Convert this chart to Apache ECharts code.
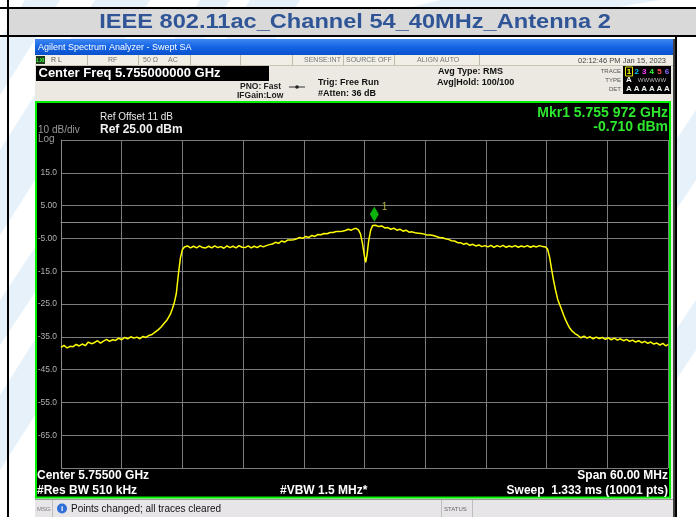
<!DOCTYPE html>
<html>
<head>
<meta charset="utf-8">
<script src="https://cdn.jsdelivr.net/npm/echarts@6/dist/echarts.min.js"></script>
<style>
html,body{margin:0;padding:0;background:#fff;}
#chart{width:696px;height:517px;}
</style>
</head>
<body>
<div id="chart"></div>
<script>
// ---- Data ----
const freqMHz = [
5725.0,5725.3,5725.6,5725.9,5726.2,5726.5,5726.8,5727.1,5727.4,5727.7,5728.0,5728.3,5728.6,5728.9,5729.2,5729.5,5729.8,5730.1,5730.4,5730.7,
5731.0,5731.3,5731.6,5731.9,5732.2,5732.5,5732.8,5733.1,5733.4,5733.7,5734.0,5734.3,5734.6,5734.9,5735.2,5735.5,5735.8,5736.0,5736.2,5736.4,
5736.6,5736.8,5737.0,5737.2,5737.5,5737.8,5738.1,5738.4,5738.7,5739.0,5739.3,5739.6,5739.9,5740.2,5740.5,5740.8,5741.1,5741.4,5741.7,5742.0,
5742.3,5742.6,5742.9,5743.2,5743.5,5743.8,5744.1,5744.4,5744.7,5745.0,5745.3,5745.6,5745.9,5746.2,5746.5,5746.8,5747.1,5747.4,5747.7,5748.0,
5748.3,5748.6,5748.9,5749.2,5749.5,5749.8,5750.1,5750.4,5750.7,5751.0,5751.3,5751.6,5751.9,5752.2,5752.5,5752.8,5753.1,5753.4,5753.7,5754.0,
5754.2,5754.4,5754.6,5754.8,5755.0,5755.12,5755.25,5755.4,5755.6,5755.8,5755.972,5756.1,5756.4,5756.7,5757.0,5757.3,5757.6,5757.9,5758.2,5758.5,
5758.8,5759.1,5759.4,5759.7,5760.0,5760.3,5760.6,5760.9,5761.2,5761.5,5761.8,5762.1,5762.4,5762.7,5763.0,5763.3,5763.6,5763.9,5764.2,5764.5,
5764.8,5765.1,5765.4,5765.7,5766.0,5766.3,5766.6,5766.9,5767.2,5767.5,5767.8,5768.1,5768.4,5768.7,5769.0,5769.3,5769.6,5769.9,5770.2,5770.5,
5770.8,5771.1,5771.4,5771.7,5772.0,5772.3,5772.6,5772.9,5773.1,5773.3,5773.5,5773.7,5773.9,5774.1,5774.3,5774.5,5774.7,5774.9,5775.1,5775.3,
5775.5,5775.8,5776.1,5776.4,5776.7,5777.0,5777.3,5777.6,5777.9,5778.2,5778.5,5778.8,5779.1,5779.4,5779.7,5780.0,5780.3,5780.6,5780.9,5781.2,
5781.5,5781.8,5782.1,5782.4,5782.7,5783.0,5783.3,5783.6,5783.9,5784.2,5784.5,5784.8,5785.0
];
const levelDbm = [
-38.2,-37.6,-38.4,-37.9,-38.0,-37.3,-37.8,-37.2,-37.7,-36.6,-37.1,-36.8,-36.2,-36.9,-36.3,-35.8,-36.4,-35.9,-36.1,-35.4,
-35.9,-35.2,-35.6,-35.0,-35.4,-35.1,-35.6,-34.9,-35.2,-34.6,-34.3,-33.6,-32.9,-32.0,-30.9,-29.8,-28.2,-26.5,-24.6,-21.8,
-16.0,-11.0,-8.4,-7.6,-7.3,-7.9,-7.4,-7.9,-7.3,-7.8,-7.9,-7.4,-7.9,-7.3,-7.8,-7.5,-8.0,-7.3,-7.8,-7.4,
-7.9,-7.2,-7.7,-7.8,-7.3,-7.9,-7.4,-7.8,-7.2,-7.6,-7.2,-6.9,-6.7,-6.2,-6.5,-5.8,-6.1,-5.5,-5.5,-5.4,
-5.1,-4.7,-5.0,-4.4,-4.7,-4.1,-4.4,-3.8,-3.9,-3.5,-3.6,-3.2,-3.2,-2.9,-2.9,-2.8,-2.6,-2.2,-2.5,-2.0,
-2.0,-2.4,-3.6,-6.5,-10.5,-12.3,-10.0,-6.0,-2.6,-1.1,-0.71,-1.0,-1.4,-1.2,-1.8,-1.7,-2.2,-1.9,-2.5,-2.2,
-2.8,-2.5,-3.1,-3.0,-3.3,-3.4,-3.5,-3.7,-4.0,-4.0,-4.1,-4.4,-4.7,-4.8,-5.1,-5.3,-5.7,-5.8,-6.3,-6.3,
-6.8,-6.5,-7.1,-6.8,-7.3,-7.0,-7.5,-7.2,-7.6,-7.1,-7.7,-7.2,-7.6,-7.1,-7.7,-7.3,-7.6,-7.2,-7.7,-7.3,
-7.6,-7.2,-7.7,-7.3,-7.6,-7.2,-7.5,-7.6,-8.3,-10.8,-14.5,-18.0,-21.0,-23.6,-25.2,-26.8,-28.5,-30.0,-31.3,-32.4,
-33.2,-34.0,-34.6,-35.3,-34.8,-35.4,-35.0,-35.6,-35.1,-35.5,-35.2,-35.8,-35.3,-35.9,-35.4,-36.0,-35.6,-36.2,-35.8,-36.4,
-36.0,-36.6,-36.2,-36.8,-36.4,-37.0,-36.6,-37.2,-36.9,-37.5,-37.0,-37.8,-37.3
];
const markerFreqMHz = [5755.972];
const markerLevelDbm = [-0.71];
const yTickValues = [15, 5, -5, -15, -25, -35, -45, -55, -65];
const yTickLabels = ['15.0', '5.00', '-5.00', '-15.0', '-25.0', '-35.0', '-45.0', '-55.0', '-65.0'];
const traceNums = ['1', '2', '3', '4', '5', '6'];

// ---- Chart ----
const chart = echarts.init(document.getElementById('chart'), null, {renderer: 'canvas'});
const F = 'Arial, "Liberation Sans", sans-serif';
function txt(text, x, y, font, fill, align, extra) {
  return Object.assign({type: 'text', z: 10, silent: true,
    style: {text: text, x: x, y: y, font: font, fill: fill, textAlign: align || 'left', textVerticalAlign: 'middle'}}, extra || {});
}
function rect(x, y, w, h, fill, z, stroke, lw) {
  const s = {fill: fill};
  if (stroke) { s.stroke = stroke; s.lineWidth = lw || 1; }
  return {type: 'rect', z: z === undefined ? 1 : z, silent: true, shape: {x: x, y: y, width: w, height: h}, style: s};
}
function vline(x, y1, y2, color, w, z) {
  return {type: 'line', z: z || 2, silent: true, shape: {x1: x, y1: y1, x2: x, y2: y2}, style: {stroke: color, lineWidth: w || 1}};
}
function poly(pts, fill) {
  return {type: 'polygon', z: 0, silent: true, shape: {points: pts}, style: {fill: fill}};
}

const pale = '#e6f1fa';
const graphics = [
  rect(0, 0, 696, 517, '#ffffff', 0),
  // watermark stripes
  poly([[0,40],[0,95],[60,0],[25,0]], pale),
  poly([[0,150],[0,235],[150,0],[95,0]], pale),
  poly([[0,300],[0,345],[230,0],[200,0]], pale),
  poly([[0,395],[0,470],[300,0],[250,0]], pale),
  poly([[400,10],[440,0],[660,0],[600,10]], pale),
  poly([[676,140],[696,110],[696,180],[676,210]], pale),
  poly([[676,330],[696,300],[696,350],[676,380]], pale),
  // table
  rect(0, 7, 696, 2, '#000000', 1),
  rect(9, 9, 687, 26, '#d9d9d9', 1),
  rect(0, 35, 696, 2, '#000000', 1),
  rect(7, 0, 2, 517, '#000000', 2),
  rect(675, 37, 2, 480, '#000000', 2),
  txt('IEEE 802.11ac_Channel 54_40MHz_Antenna 2', 355, 22, 'bold 20px ' + F, '#2f5597', 'center',
      {scaleX: 1.18, originX: 355, originY: 22}),
  // screenshot body
  rect(35, 39, 639, 478, '#ece9e2', 1),
  rect(673, 39, 2, 478, '#404040', 2),
  {type: 'rect', z: 2, silent: true, shape: {x: 35, y: 39, width: 638, height: 16},
   style: {fill: new echarts.graphic.LinearGradient(0, 0, 0, 1, [{offset: 0, color: '#3d86f2'}, {offset: 0.5, color: '#1464e4'}, {offset: 1, color: '#0a50cc'}])}},
  txt('Agilent Spectrum Analyzer - Swept SA', 38, 47.5, '9px ' + F, '#ffffff'),
  rect(35, 55, 638, 11, '#f1eee6', 2),
  {type: 'line', z: 3, silent: true, shape: {x1: 35, y1: 65.5, x2: 673, y2: 65.5}, style: {stroke: '#c8c4b8', lineWidth: 1}},
  vline(87.5, 55, 66, '#bdb9ad'), vline(138.5, 55, 66, '#bdb9ad'), vline(190.5, 55, 66, '#bdb9ad'),
  vline(240.5, 55, 66, '#bdb9ad'), vline(292.5, 55, 66, '#bdb9ad'), vline(343.5, 55, 66, '#bdb9ad'),
  vline(394.5, 55, 66, '#bdb9ad'), vline(479.5, 55, 66, '#bdb9ad'),
  rect(36, 56, 9, 8, '#1e3a1e', 3),
  txt('LXI', 40.5, 60.5, 'bold 5px ' + F, '#3cff3c', 'center'),
  txt('R L', 51, 60.5, '7px ' + F, '#555555'),
  txt('RF', 108, 60.5, '7px ' + F, '#777777'),
  txt('50 Ω', 143, 60.5, '7px ' + F, '#777777'),
  txt('AC', 168, 60.5, '7px ' + F, '#777777'),
  txt('SENSE:INT', 304, 60.5, '7px ' + F, '#777777'),
  txt('SOURCE OFF', 346, 60.5, '7px ' + F, '#777777'),
  txt('ALIGN AUTO', 417, 60.5, '7px ' + F, '#777777'),
  txt('02:12:46 PM Jan 15, 2023', 666, 60.5, '7.5px ' + F, '#444444', 'right'),
  // center freq black box
  rect(36, 66, 233, 15, '#000000', 3),
  txt('Center Freq 5.755000000 GHz', 38.5, 73.5, 'bold 13px ' + F, '#ffffff'),
  txt('PNO: Fast', 240, 86.5, 'bold 8.5px ' + F, '#222222'),
  txt('IFGain:Low', 237, 95.5, 'bold 8.5px ' + F, '#222222'),
  {type: 'line', z: 3, silent: true, shape: {x1: 289, y1: 87, x2: 305, y2: 87}, style: {stroke: '#333', lineWidth: 1}},
  {type: 'circle', z: 3, silent: true, shape: {cx: 297, cy: 87, r: 1.8}, style: {fill: '#222'}},
  txt('Trig: Free Run', 318, 82.5, 'bold 9px ' + F, '#111111'),
  txt('#Atten: 36 dB', 318, 93.5, 'bold 9px ' + F, '#111111'),
  txt('Avg Type: RMS', 438, 72, 'bold 9px ' + F, '#111111'),
  txt('Avg|Hold: 100/100', 437, 83, 'bold 9px ' + F, '#111111'),
  txt('TRACE', 621, 71, '6px ' + F, '#555555', 'right'),
  txt('TYPE', 621, 80, '6px ' + F, '#555555', 'right'),
  txt('DET', 621, 89, '6px ' + F, '#555555', 'right'),
  rect(623, 66, 48, 28, '#000000', 3),
  rect(625.5, 67, 7, 9, 'rgba(0,0,0,0)', 4, '#e6e600', 1),
  txt('A', 629, 80, 'bold 8px ' + F, '#ffffff', 'center'),
  txt('WWWWW', 652, 80, '6px ' + F, '#bbbbbb', 'center'),
  // green bordered analyzer screen
  rect(36, 102, 634, 395.5, '#000000', 2, '#00f000', 2),
  txt('Ref Offset 11 dB', 100, 117, '10px ' + F, '#e8e8e8'),
  txt('Ref 25.00 dBm', 100, 129.5, 'bold 12px ' + F, '#f0f0f0'),
  txt('10 dB/div', 38, 130, '10px ' + F, '#9a9a9a'),
  txt('Log', 38, 139, '10px ' + F, '#9a9a9a'),
  txt('Mkr1 5.755 972 GHz', 668, 113, 'bold 14px ' + F, '#2ee82e', 'right'),
  txt('-0.710 dBm', 668, 127, 'bold 14px ' + F, '#2ee82e', 'right'),
  txt('Center 5.75500 GHz', 37, 476, 'bold 12px ' + F, '#ffffff'),
  txt('#Res BW 510 kHz', 37, 490.5, 'bold 12px ' + F, '#ffffff'),
  txt('#VBW 1.5 MHz*', 280, 490.5, 'bold 12px ' + F, '#ffffff'),
  txt('Span 60.00 MHz', 668, 476, 'bold 12px ' + F, '#ffffff', 'right'),
  txt('Sweep  1.333 ms (10001 pts)', 668, 490.5, 'bold 12px ' + F, '#ffffff', 'right'),
  // message bar
  rect(35, 499, 638, 18, '#e8e5e8', 2),
  {type: 'line', z: 3, silent: true, shape: {x1: 35, y1: 499.5, x2: 673, y2: 499.5}, style: {stroke: '#9a9a9a', lineWidth: 1}},
  vline(52.5, 500, 517, '#bdbdbd', 1, 3), vline(441.5, 500, 517, '#bdbdbd', 1, 3), vline(472.5, 500, 517, '#bdbdbd', 1, 3),
  txt('MSG', 37, 509, '6px ' + F, '#777777'),
  {type: 'circle', z: 4, silent: true, shape: {cx: 62, cy: 508.5, r: 5}, style: {fill: '#2f6fd6'}},
  txt('i', 62, 508.5, 'bold 8px ' + F, '#ffffff', 'center'),
  txt('Points changed; all traces cleared', 71, 509.5, '10px ' + F, '#111111'),
  txt('STATUS', 444, 509.5, '6px ' + F, '#666666')
];
const traceColors = ['#ffff00', '#00c8ff', '#ff40ff', '#30ff30', '#ff5050', '#8a6cff'];
traceNums.forEach((n, i) => {
  graphics.push(txt(n, 629 + 7.6 * i, 71.5, 'bold 8px ' + F, traceColors[i], 'center'));
  graphics.push(txt('A', 629 + 7.6 * i, 89, 'bold 8px ' + F, '#eeeeee', 'center'));
});

const option = {
  animation: false,
  backgroundColor: 'transparent',
  graphic: {elements: graphics},
  grid: {left: 61, top: 140, width: 607, height: 328, show: false, z: 5},
  xAxis: {
    type: 'value', min: 5725, max: 5785, interval: 6, z: 5,
    axisLabel: {show: false}, axisTick: {show: false},
    axisLine: {show: true, lineStyle: {color: '#8a8a8a', width: 1}},
    splitLine: {show: true, lineStyle: {color: '#7c7c7c', width: 1}}
  },
  yAxis: {
    type: 'value', min: -75, max: 25, interval: 10, z: 5,
    axisTick: {show: false},
    axisLine: {show: true, lineStyle: {color: '#8a8a8a', width: 1}},
    splitLine: {show: true, lineStyle: {color: '#7c7c7c', width: 1}},
    axisLabel: {
      margin: 4, color: '#b0b0b0', fontSize: 8.5, fontFamily: F,
      formatter: function (v) {
        const i = yTickValues.findIndex(t => Math.abs(t - v) < 1e-6);
        return i >= 0 ? yTickLabels[i] : '';
      }
    }
  },
  series: [
    {
      type: 'line', z: 6, showSymbol: false, symbol: 'none', silent: true,
      data: freqMHz.map((f, i) => [f, levelDbm[i]]),
      lineStyle: {color: '#ffff00', width: 1.5}
    },
    {
      type: 'scatter', z: 7, silent: true,
      data: markerFreqMHz.map((f, i) => [f, markerLevelDbm[i]]),
      symbol: 'diamond', symbolSize: [9, 15], symbolOffset: [0, -10],
      itemStyle: {color: '#10e010'},
      label: {show: true, formatter: '1', position: 'right', distance: 3, offset: [0, -7],
              color: '#d8d850', fontSize: 10, fontFamily: F}
    }
  ]
};
chart.setOption(option);
</script>
</body>
</html>
